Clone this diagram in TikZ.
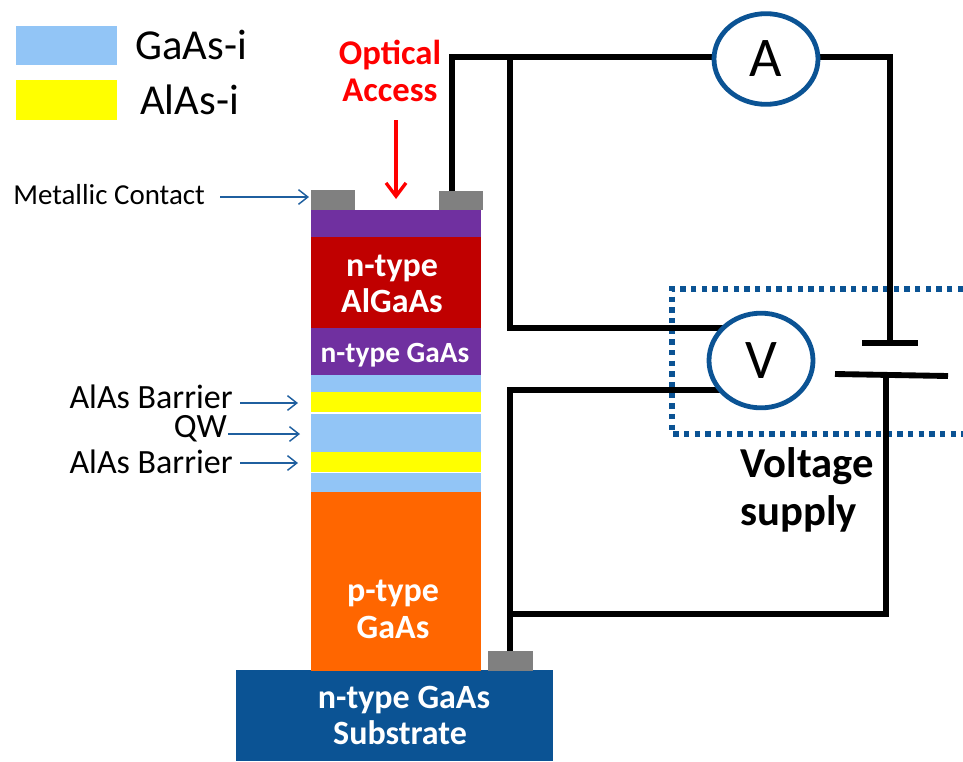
\documentclass[tikz,border=0pt]{standalone}
\usepackage{fontspec}
\setmainfont{Carlito}
\definecolor{lblue}{HTML}{92C5F6}
\definecolor{yel}{HTML}{FFFF00}
\definecolor{purp}{HTML}{7030A0}
\definecolor{dred}{HTML}{C00000}
\definecolor{orng}{HTML}{FF6600}
\definecolor{sub}{HTML}{0B5394}
\definecolor{gry}{HTML}{808080}
\definecolor{arr}{HTML}{1F5F9F}
\usetikzlibrary{arrows.meta,shapes.geometric}
\tikzset{
 x=0.75pt,y=-0.75pt,
 layer/.style={fill=#1,draw=none},
 wire/.style={line width=4.4pt,black,line join=miter},
 meter/.style={draw=sub,line width=3.6pt,fill=white,ellipse,inner sep=0pt},
 lbl/.style={text=white,font=\bfseries\fontsize{25.5}{27.5}\selectfont,align=center,inner sep=0pt},
 blk/.style={text=black,inner sep=0pt},
 thinarrow/.style={draw=arr,line width=1.1pt,-{Straight Barb[length=7pt,width=11pt,line width=1.1pt]}},
}
\begin{document}
\begin{tikzpicture}
\useasboundingbox (0,0) rectangle (963,761);
% legend
\fill[lblue] (16,26) rectangle (117,65);
\fill[yel] (16,80) rectangle (117,120);
\node[blk,anchor=west,font=\fontsize{32}{33}\selectfont] (lg1) at (135,45) {GaAs-i};
\node[blk,anchor=west,font=\fontsize{32}{33}\selectfont] (lg2) at (140,100) {AlAs-i};
% layers
\fill[layer=sub] (236,670) rectangle (553,761);
\fill[layer=orng] (311,492) rectangle (481,671);
\fill[layer=lblue] (311,473) rectangle (481,492);
\fill[layer=yel] (311,452) rectangle (481,472);
\fill[layer=lblue] (311,414) rectangle (481,452);
\fill[layer=yel] (311,392) rectangle (481,412);
\fill[layer=lblue] (311,375) rectangle (481,392);
\fill[layer=purp] (311,328) rectangle (481,375);
\fill[layer=dred] (311,237) rectangle (481,328);
\fill[layer=purp] (311,210) rectangle (481,237);
% contacts
\fill[gry] (311,190) rectangle (355,210);
\fill[gry] (439,191) rectangle (483,210);
\fill[gry] (488,651) rectangle (533,671);
% dotted box
\draw[sub,line width=4pt,dash pattern=on 4pt off 4pt] (963,289) -- (672,289) -- (672,434) -- (963,434);
% wires
\coordinate (c1) at (452,191);
\coordinate (c2) at (510,651);
\coordinate (tl) at (452,57);
\coordinate (j1) at (510,57);
\coordinate (tr) at (890,57);
\coordinate (bp1) at (890,343);
\coordinate (bp2) at (886,376);
\coordinate (br) at (886,614);
\coordinate (j2) at (510,614);
\coordinate (vt) at (725,328);
\coordinate (vb) at (725,390);
\draw[wire] (c1) -- (tl) -- (tr) -- (bp1);
\draw[wire] (j1) -- (510,328) -- (vt);
\draw[wire] (vb) -- (510,390) -- (c2);
\draw[wire] (bp2) -- (br) -- (j2);
\draw[wire] (862,343) -- (918,343);
\draw[wire] (835,374) -- (948,376);
% meters
\node[meter,minimum width=78pt,minimum height=68pt] (A) at (766,59) {\fontsize{42}{42}\selectfont A};
\node[meter,minimum width=78pt,minimum height=71pt] (V) at (761,360.5) {\fontsize{42}{42}\selectfont V};
% text in layers
\node[lbl] (t1) at (392,284) {n-type\\AlGaAs};
\node[lbl,font=\bfseries\fontsize{22}{24}\selectfont] (t2) at (395,355) {n-type GaAs};
\node[lbl] (t3) at (393,609.5) {p-type\\GaAs};
\node[lbl] (t4) at (404,715.5) {n-type GaAs\\Substrate\hspace*{6pt}};
\node[text=red,align=center,inner sep=0pt,font=\bfseries\fontsize{26}{28}\selectfont] (oa) at (390,71) {Optical\\Access};
\node[blk,align=left,font=\bfseries\fontsize{32}{36}\selectfont] (vs) at (807,490) {Voltage\\supply};
% side labels
\node[blk,anchor=west,font=\fontsize{21.7}{23}\selectfont] (mc) at (13,195) {Metallic Contact};
\node[blk,anchor=east,font=\fontsize{25.5}{26}\selectfont] (ab1) at (233,397) {AlAs Barrier};
\node[blk,anchor=east,font=\fontsize{25.5}{26}\selectfont] (qw) at (227,429) {QW};
\node[blk,anchor=east,font=\fontsize{25.5}{26}\selectfont] (ab2) at (233,462) {AlAs Barrier};
% arrows
\coordinate (m1) at (309,197);
\coordinate (a1) at (298,403);
\coordinate (a2) at (300,434);
\coordinate (a3) at (298,463);
\draw[thinarrow] (220,197) -- (m1);
\draw[thinarrow] (240,403) -- (a1);
\draw[thinarrow] (228,434) -- (a2);
\draw[thinarrow] (240,463) -- (a3);
\coordinate (r1) at (396,120);
\coordinate (r2) at (396,199);
\draw[red,line width=2.5pt,-{Straight Barb[length=10pt,width=15pt,line width=2.5pt]}] (r1) -- (r2);
\end{tikzpicture}
\end{document}
